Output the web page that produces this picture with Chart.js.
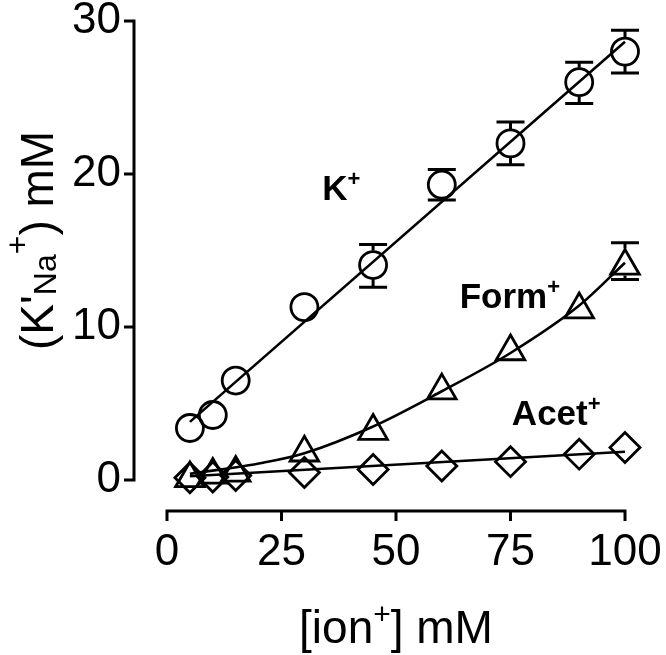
<!DOCTYPE html>
<html><head><meta charset="utf-8">
<script src="https://cdn.jsdelivr.net/npm/chart.js@4"></script>
<style>html,body{margin:0;padding:0;background:#fff}#wrap{width:666px;height:655px;position:relative}</style>
</head><body><div id="wrap"><canvas id="c" width="666" height="655"></canvas></div>
<script>
// ---- data ----
const ionConc     = [5, 10, 15, 30, 45, 60, 75, 90, 100];
const kValues     = [3.4, 4.25, 6.5, 11.3, 14.05, 19.3, 22.0, 26.0, 28.0];
const kErrLow     = [null, null, null, null, 12.6, 18.3, 20.6, 24.6, 26.6];
const kErrHigh    = [null, null, null, null, 15.4, 20.3, 23.4, 27.3, 29.4];
const formValues  = [0.1, 0.33, 0.46, 1.78, 3.2, 5.84, 8.4, 11.14, 13.99];
const formErrLow  = [null, null, null, null, null, null, null, null, 13.1];
const formErrHigh = [null, null, null, null, null, null, null, null, 15.5];
const acetValues  = [0.15, 0.2, 0.3, 0.49, 0.69, 0.91, 1.2, 1.69, 2.12];
const kFitX    = [5, 100];
const kFitY    = [3.8, 28.65];
const formFitX = [5, 21, 30, 45, 60, 75, 90, 100];
const formFitY = [0.4, 1.13, 1.75, 3.5, 5.8, 8.3, 11.4, 14.2];
const acetFitX = [5, 100];
const acetFitY = [0.25, 1.85];
const xTicks = [0, 25, 50, 75, 100];
const yTicks = [0, 10, 20, 30];
const seriesNames = ['K', 'Form', 'Acet'];
const xTitle = ['[ion', '+', '] mM'];
const yTitle = ["(K'", 'Na', '+', ') mM'];

// ---- helpers ----
const pts = (xs, ys) => xs.map((x, i) => ({x: x, y: ys[i]}));
const FONT = '"Liberation Sans", Arial, Helvetica, sans-serif';

function drawRich(ctx, x, y, parts) {
  let cx = x;
  parts.forEach(p => {
    ctx.font = (p.bold ? 'bold ' : '') + p.size + 'px ' + FONT;
    ctx.fillText(p.t, cx, y + (p.dy || 0));
    cx += ctx.measureText(p.t).width;
  });
  return cx - x;
}
function richWidth(ctx, parts) {
  let w = 0;
  parts.forEach(p => { ctx.font = (p.bold ? 'bold ' : '') + p.size + 'px ' + FONT; w += ctx.measureText(p.t).width; });
  return w;
}

const axesPlugin = {
  id: 'gpAxes',
  afterDraw(chart) {
    const ctx = chart.ctx, xs = chart.scales.x, ys = chart.scales.y, ca = chart.chartArea;
    ctx.save();
    ctx.strokeStyle = '#000'; ctx.lineWidth = 3; ctx.lineJoin = 'miter'; ctx.lineCap = 'butt';
    // y axis (offset left)
    const ax = ca.left - 33, tl = 10;
    const yTop = ys.getPixelForValue(yTicks[yTicks.length - 1]), yBot = ys.getPixelForValue(yTicks[0]);
    ctx.beginPath();
    ctx.moveTo(ax - tl, yTop); ctx.lineTo(ax, yTop); ctx.lineTo(ax, yBot); ctx.lineTo(ax - tl, yBot);
    ctx.stroke();
    yTicks.slice(1, -1).forEach(v => { const p = ys.getPixelForValue(v); ctx.beginPath(); ctx.moveTo(ax - tl, p); ctx.lineTo(ax, p); ctx.stroke(); });
    // x axis (offset down)
    const ay = ca.bottom + 31;
    const xL = xs.getPixelForValue(xTicks[0]), xR = xs.getPixelForValue(xTicks[xTicks.length - 1]);
    ctx.beginPath();
    ctx.moveTo(xL, ay + tl); ctx.lineTo(xL, ay); ctx.lineTo(xR, ay); ctx.lineTo(xR, ay + tl);
    ctx.stroke();
    xTicks.slice(1, -1).forEach(v => { const p = xs.getPixelForValue(v); ctx.beginPath(); ctx.moveTo(p, ay); ctx.lineTo(p, ay + tl); ctx.stroke(); });

    // axis titles
    ctx.fillStyle = '#000'; ctx.textBaseline = 'alphabetic'; ctx.textAlign = 'left';
    const xParts = [{t: xTitle[0], size: 46}, {t: xTitle[1], size: 30, dy: -19}, {t: xTitle[2], size: 46}];
    const xw = richWidth(ctx, xParts);
    const xc = (xL + xR) / 2;
    drawRich(ctx, xc - xw / 2, 643, xParts);

    const yParts = [{t: yTitle[0], size: 46}, {t: yTitle[1], size: 32, dy: 3}, {t: yTitle[2], size: 32, dy: -25}, {t: yTitle[3], size: 46}];
    ctx.save();
    ctx.translate(53, 350);
    ctx.rotate(-Math.PI / 2);
    drawRich(ctx, 0, 0, yParts);
    ctx.restore();

    // series labels at data coordinates
    const labelAnchors = [[33.9, 18.3], [63.9, 11.24], [75.3, 3.6]];
    seriesNames.forEach((n, i) => {
      const px = xs.getPixelForValue(labelAnchors[i][0]), py = ys.getPixelForValue(labelAnchors[i][1]);
      drawRich(ctx, px, py, [{t: n, size: 35, bold: true}, {t: '+', size: 22, bold: true, dy: -14}]);
    });
    ctx.restore();
  }
};

const errPlugin = {
  id: 'errBars',
  afterDatasetsDraw(chart) {
    const ctx = chart.ctx, xs = chart.scales.x, ys = chart.scales.y;
    const specs = [
      {vals: kValues, lo: kErrLow, hi: kErrHigh, up: 14.5, down: 14.5},
      {vals: formValues, lo: formErrLow, hi: formErrHigh, up: 17.5, down: 9.5}
    ];
    ctx.save();
    ctx.strokeStyle = '#000'; ctx.lineWidth = 3; ctx.lineCap = 'butt';
    specs.forEach(s => {
      ionConc.forEach((xv, i) => {
        if (s.hi[i] == null) return;
        const px = xs.getPixelForValue(xv), pc = ys.getPixelForValue(s.vals[i]);
        const ph = ys.getPixelForValue(s.hi[i]), pl = ys.getPixelForValue(s.lo[i]);
        const hw = 14;
        ctx.beginPath();
        ctx.moveTo(px - hw, ph); ctx.lineTo(px + hw, ph);
        ctx.moveTo(px - hw, pl); ctx.lineTo(px + hw, pl);
        if (ph < pc - s.up) { ctx.moveTo(px, ph); ctx.lineTo(px, pc - s.up); }
        if (pl > pc + s.down) { ctx.moveTo(px, pl); ctx.lineTo(px, pc + s.down); }
        ctx.stroke();
      });
    });
    ctx.restore();
  }
};

const markerBase = {showLine: false, borderColor: '#000', backgroundColor: 'rgba(0,0,0,0)', borderWidth: 2.8, clip: false, pointHoverRadius: 0};
const lineBase = {showLine: true, borderColor: '#000', borderWidth: 2.6, pointRadius: 0, fill: false, clip: false};
const hiddenGrid = {display: true, color: 'rgba(0,0,0,0)', drawOnChartArea: false, drawTicks: true, tickLength: 46};

new Chart(document.getElementById('c'), {
  type: 'scatter',
  data: {
    datasets: [
      Object.assign({label: 'K+', data: pts(ionConc, kValues), pointStyle: 'circle', pointRadius: 13.5}, markerBase),
      Object.assign({label: 'Form+', data: pts(ionConc, formValues), pointStyle: 'triangle', pointRadius: 16.5}, markerBase),
      Object.assign({label: 'Acet+', data: pts(ionConc, acetValues), pointStyle: 'rectRot', pointRadius: 15}, markerBase),
      Object.assign({label: 'K+ fit', data: pts(kFitX, kFitY)}, lineBase),
      Object.assign({label: 'Form+ fit', data: pts(formFitX, formFitY), cubicInterpolationMode: 'monotone'}, lineBase),
      Object.assign({label: 'Acet+ fit', data: pts(acetFitX, acetFitY)}, lineBase)
    ]
  },
  options: {
    responsive: false, animation: false, devicePixelRatio: 1,
    layout: {padding: {left: 0, right: 41, top: 21, bottom: 0}},
    plugins: {legend: {display: false}, tooltip: {enabled: false}},
    events: [],
    scales: {
      x: {
        type: 'linear', min: 0, max: 100,
        grid: hiddenGrid, border: {display: false},
        afterBuildTicks: s => { s.ticks = xTicks.map(v => ({value: v})); },
        afterFit: s => { s.height = 175; },
        ticks: {color: '#000', padding: 0, font: {family: FONT, size: 44, lineHeight: 1.2}, maxRotation: 0, autoSkip: false}
      },
      y: {
        type: 'linear', min: 0, max: 30,
        grid: hiddenGrid, border: {display: false},
        afterBuildTicks: s => { s.ticks = yTicks.map(v => ({value: v})); },
        afterFit: s => { s.width = 167; },
        ticks: {color: '#000', padding: 0, font: {family: FONT, size: 44, lineHeight: 0.9}, autoSkip: false}
      }
    }
  },
  plugins: [axesPlugin, errPlugin]
});
</script>
</body></html>
